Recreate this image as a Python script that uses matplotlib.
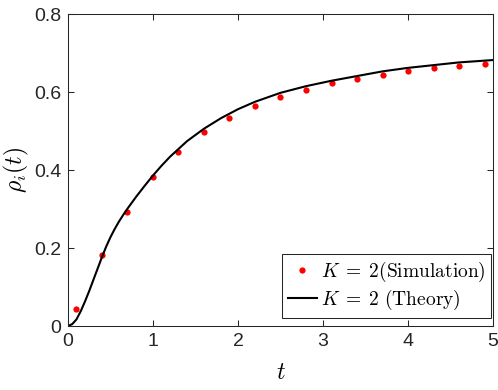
import matplotlib
matplotlib.use('Agg')
import matplotlib.pyplot as plt
import numpy as np

plt.rcParams['mathtext.fontset'] = 'cm'
plt.rcParams['font.family'] = ['Liberation Sans', 'DejaVu Sans']

# Simulation points (red dots)
t_sim = [0.1, 0.4, 0.7, 1.0, 1.3, 1.6, 1.9, 2.2, 2.5, 2.8, 3.1, 3.4, 3.7, 4.0, 4.3, 4.6, 4.9]
rho_sim = [0.044, 0.182, 0.293, 0.381, 0.446, 0.497, 0.534, 0.564, 0.587, 0.606,
           0.623, 0.634, 0.644, 0.654, 0.661, 0.667, 0.672]

# Theory curve
t_th = [0, 0.05, 0.1, 0.15, 0.2, 0.25, 0.3, 0.35, 0.4, 0.45, 0.5, 0.55, 0.6, 0.65, 0.7,
        0.8, 0.9, 1.0, 1.1, 1.2, 1.4, 1.6, 1.8, 2.0, 2.2, 2.5, 2.8, 3.1, 3.4, 3.7,
        4.0, 4.3, 4.6, 5.0]
rho_th = [0, 0.005, 0.017, 0.038, 0.063, 0.090, 0.119, 0.148, 0.177, 0.204, 0.228,
          0.249, 0.268, 0.285, 0.301, 0.331, 0.359, 0.386, 0.411, 0.434, 0.474,
          0.506, 0.533, 0.556, 0.575, 0.598, 0.615, 0.629, 0.641, 0.653, 0.662,
          0.669, 0.676, 0.682]

fig = plt.figure(figsize=(4.98, 3.90), dpi=100)
ax = fig.add_axes([0.1365, 0.164, 0.8535, 0.8])

ax.plot(t_sim, rho_sim, 'o', color='red', markersize=4.5, markeredgewidth=0,
        label=r'$K \;=\; 2\mathrm{(Simulation)}$')
ax.plot(t_th, rho_th, '-', color='black', linewidth=1.5,
        label=r'$K \;=\; 2\ \mathrm{(Theory)}$')

ax.set_xlim(0, 5)
ax.set_ylim(0, 0.8)
ax.set_xticks([0, 1, 2, 3, 4, 5])
ax.set_yticks([0, 0.2, 0.4, 0.6, 0.8])
ax.set_yticklabels(['0', '0.2', '0.4', '0.6', '0.8'])

for s in ax.spines.values():
    s.set_color('#262626')
    s.set_linewidth(0.75)
ax.tick_params(direction='in', top=True, right=True, length=4, width=0.75,
               color='#262626', labelcolor='#262626', labelsize=14, pad=5)

ax.set_xlabel(r'$t$', fontsize=17, labelpad=9)
ax.set_ylabel(r'$\rho_i(t)$', fontsize=17, labelpad=2)

leg = ax.legend(loc='lower right', bbox_to_anchor=(0.996, 0.026), borderaxespad=0,
                fontsize=14, fancybox=False, framealpha=1, edgecolor='#262626',
                handlelength=1.5, handletextpad=0.2, borderpad=0.3, labelspacing=0.2)
leg.get_frame().set_linewidth(0.75)

fig.savefig('out.png', dpi=100)
